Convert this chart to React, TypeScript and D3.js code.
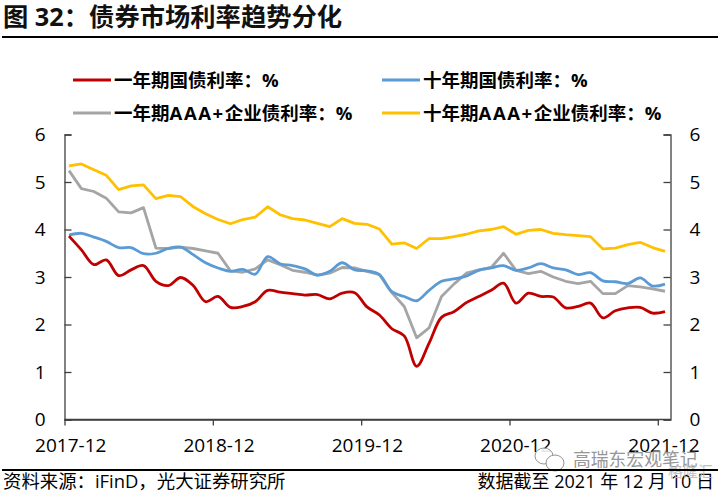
import { useRef, useEffect } from "react";
import * as d3 from "d3";

const title = "图 32：债券市场利率趋势分化";
const source = "资料来源：iFinD，光大证券研究所";
const note = "数据截至 2021 年 12 月 10 日";
const xLabels = ["2017-12", "2018-12", "2019-12", "2020-12", "2021-12"];
const yTicks = [0, 1, 2, 3, 4, 5, 6];

const bond1y = [
    3.86, 3.57, 3.26, 3.36, 3.03, 3.15, 3.24, 2.91, 2.82, 2.99, 2.82, 2.48, 2.59,
    2.36, 2.38, 2.48, 2.72, 2.68, 2.65, 2.62, 2.63, 2.54, 2.66, 2.67, 2.37, 2.2,
    1.91, 1.76, 1.12, 1.61, 2.15, 2.27, 2.46, 2.59, 2.72, 2.87, 2.45, 2.66, 2.59,
    2.58, 2.35, 2.38, 2.45, 2.14, 2.29, 2.35, 2.36, 2.24, 2.27,
];
const bond10y = [
    3.88, 3.92, 3.84, 3.75, 3.62, 3.62, 3.49, 3.5, 3.6, 3.63, 3.47, 3.3, 3.19,
    3.12, 3.16, 3.06, 3.43, 3.28, 3.24, 3.17, 3.04, 3.12, 3.3, 3.15, 3.13, 3.05,
    2.69, 2.59, 2.5, 2.72, 2.91, 2.96, 3.02, 3.14, 3.19, 3.24, 3.14, 3.19, 3.28,
    3.19, 3.15, 3.05, 3.09, 2.92, 2.9, 2.86, 2.98, 2.81, 2.85,
];
const corp1y = [
    5.24, 4.86, 4.8, 4.66, 4.37, 4.35, 4.46, 3.61, 3.6, 3.63, 3.6, 3.55, 3.5,
    3.13, 3.1, 3.17, 3.36, 3.26, 3.14, 3.1, 3.04, 3.08, 3.2, 3.19, 3.12, 3.05,
    2.67, 2.38, 1.72, 1.93, 2.59, 2.85, 3.08, 3.15, 3.2, 3.5, 3.14, 3.07, 3.12,
    3.0, 2.91, 2.86, 2.91, 2.65, 2.65, 2.82, 2.79, 2.75, 2.7,
];
const corp10y = [
    5.34, 5.38, 5.26, 5.14, 4.84, 4.92, 4.94, 4.65, 4.72, 4.69, 4.48, 4.33, 4.21,
    4.12, 4.21, 4.26, 4.48, 4.31, 4.23, 4.2, 4.13, 4.06, 4.23, 4.13, 4.11, 4.01,
    3.69, 3.72, 3.6, 3.81, 3.81, 3.85, 3.9, 3.97, 4.0, 4.06, 3.9, 3.98, 4.0,
    3.92, 3.89, 3.87, 3.85, 3.59, 3.61, 3.68, 3.73, 3.62, 3.54,
];

const seriesNames = [
    "一年期国债利率：%",
    "十年期国债利率：%",
    "一年期AAA+企业债利率：%",
    "十年期AAA+企业债利率：%",
];
const seriesColors = ["#c00000", "#5b9bd5", "#a5a5a5", "#ffc000"];
const seriesValues = [bond1y, bond10y, corp1y, corp10y];

const font = "'Open Sans', 'Noto Sans CJK SC', sans-serif";

export default function App() {
    const svgRef = useRef<SVGSVGElement>(null);

    useEffect(() => {
        if (!svgRef.current) return;
        const svg = d3.select(svgRef.current);
        svg.selectAll("*").remove();

        const left = 64.5;
        const right = 670.5;
        const top = 134.5;
        const bottom = 419.5;
        const months = d3.range(bond1y.length);

        const y = d3.scaleLinear().domain([0, 6]).range([bottom, top]);
        // ticks sit on month edges, lines run a little inside them
        const xTick = d3.scaleLinear().domain([0, 48]).range([left, 657.8]);
        const xLine = d3.scaleLinear().domain([0, 48]).range([69, 665]);

        const styleAxis = (g: d3.Selection<SVGGElement, unknown, null, undefined>) => {
            g.selectAll(".domain").attr("stroke", "#404040").attr("stroke-width", 1.3);
            g.selectAll(".tick line").attr("stroke", "#404040").attr("stroke-width", 1.3);
            g.selectAll("text")
                .attr("font-family", font)
                .attr("font-size", 19)
                .attr("fill", "#000");
        };

        svg.append("g")
            .attr("transform", `translate(${left},0)`)
            .call(d3.axisLeft(y).tickValues(yTicks).tickFormat(d3.format("d")).tickSize(-7).tickPadding(19))
            .call(styleAxis);

        svg.append("g")
            .attr("transform", `translate(${right},0)`)
            .call(d3.axisRight(y).tickValues(yTicks).tickFormat(d3.format("d")).tickSize(-7).tickPadding(19))
            .call(styleAxis);

        const xAxis = d3
            .axisBottom(xTick)
            .tickValues(xLabels.map((_, i) => i * 12))
            .tickFormat((_, i) => xLabels[i])
            .tickSize(6)
            .tickPadding(13)
            .tickSizeOuter(0);

        svg.append("g")
            .attr("transform", `translate(0,${bottom})`)
            .call(xAxis)
            .call(styleAxis)
            .call((g) => g.selectAll(".tick text").attr("dx", 5.7));

        svg.append("line")
            .attr("x1", left)
            .attr("x2", right)
            .attr("y1", bottom)
            .attr("y2", bottom)
            .attr("stroke", "#404040")
            .attr("stroke-width", 1.3);

        // red and blue are smoothed in the original, grey and yellow are not
        const smooth = d3
            .line<number>()
            .x((i) => xLine(i))
            .curve(d3.curveCatmullRom.alpha(0.5));
        const straight = d3.line<number>().x((i) => xLine(i));

        [3, 2, 1, 0].forEach((s) => {
            const gen = s < 2 ? smooth : straight;
            gen.y((i) => y(seriesValues[s][i]));
            svg.append("path")
                .attr("d", gen(months))
                .attr("fill", "none")
                .attr("stroke", seriesColors[s])
                .attr("stroke-width", 2.8)
                .attr("stroke-linejoin", "round");
        });

        // legend
        const legendX = [73, 382];
        const legendY = [80, 113];
        seriesNames.forEach((name, i) => {
            const lx = legendX[i % 2];
            const ly = legendY[Math.floor(i / 2)];
            svg.append("line")
                .attr("x1", lx)
                .attr("x2", lx + 38)
                .attr("y1", ly)
                .attr("y2", ly)
                .attr("stroke", seriesColors[i])
                .attr("stroke-width", 3);
            const label = svg
                .append("text")
                .attr("x", lx + 41)
                .attr("y", ly + 6.5)
                .attr("font-family", font)
                .attr("font-size", 18.5)
                .attr("font-weight", 700);
            // the latin run is set wider than the CJK in the original
            name.split(/(AAA\+)/).forEach((part) => {
                label
                    .append("tspan")
                    .attr("letter-spacing", part === "AAA+" ? 1.6 : 0)
                    .text(part);
            });
        });

        // title and footer
        svg.append("text")
            .attr("x", 3)
            .attr("y", 26)
            .attr("font-family", font)
            .attr("font-size", 25.3)
            .attr("font-weight", 700)
            .attr("fill", "#111")
            .text(title);
        svg.append("line")
            .attr("x1", 2)
            .attr("x2", 718)
            .attr("y1", 37)
            .attr("y2", 37)
            .attr("stroke", "#000")
            .attr("stroke-width", 2);
        svg.append("text")
            .attr("x", 3)
            .attr("y", 488)
            .attr("font-family", font)
            .attr("font-size", 18.4)
            .text(source);
        svg.append("text")
            .attr("x", 714)
            .attr("y", 488)
            .attr("text-anchor", "end")
            .attr("font-family", font)
            .attr("font-size", 18)
            .text(note);

        // watermark
        const mark = svg.append("g").attr("opacity", 0.9);
        mark.append("ellipse")
            .attr("cx", 544)
            .attr("cy", 456)
            .attr("rx", 9)
            .attr("ry", 8)
            .attr("fill", "#fff")
            .attr("stroke", "#888");
        mark.append("ellipse")
            .attr("cx", 555)
            .attr("cy", 463)
            .attr("rx", 9)
            .attr("ry", 8)
            .attr("fill", "#fff")
            .attr("stroke", "#888");
        mark.append("text")
            .attr("x", 573)
            .attr("y", 466)
            .attr("font-family", font)
            .attr("font-size", 17.8)
            .attr("fill", "#8c8c8c")
            .text("高瑞东宏观笔记");
        mark.append("text")
            .attr("x", 668)
            .attr("y", 477)
            .attr("font-family", font)
            .attr("font-size", 15)
            .attr("fill", "#bbb")
            .text("格隆汇");

        svg.append("line")
            .attr("x1", 2)
            .attr("x2", 718)
            .attr("y1", 470)
            .attr("y2", 470)
            .attr("stroke", "#000")
            .attr("stroke-width", 2);
    }, []);

    return (
        <svg
            ref={svgRef}
            width={721}
            height={494}
            style={{ position: "absolute", left: 0, top: 0, background: "#fff" }}
        />
    );
}
